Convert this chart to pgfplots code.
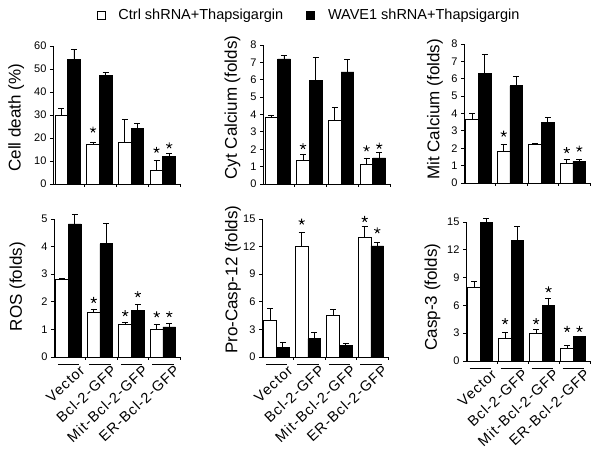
\documentclass[border=0pt]{standalone}
\usepackage{pgfplots}
\pgfplotsset{compat=1.18}
\usepackage{fontspec}
\setmainfont{Liberation Sans}
\newfontfamily\lblfont[LetterSpace=7]{Liberation Sans}

\pgfplotsset{
  panel/.style={
    scale only axis, anchor=south west,
    xmin=0, xmax=4, ymin=0, enlargelimits=false, clip=false,
    axis x line=bottom, axis y line=left,
    axis line style={-, line width=0.8pt},
    tick align=outside,
    major tick length=3pt,
    tick style={line width=0.8pt, black},
    xtick={1,2,3,4}, xticklabels={},
    yticklabel style={font=\fontsize{11}{11}\selectfont, /pgf/number format/assume math mode=true},
    tick label style={/pgf/number format/assume math mode=true},
    ylabel style={font=\fontsize{17}{17}\selectfont, anchor=center},
  },
  bottompanel/.style={
    extra x ticks={0.46,1.46,2.46,3.46},
    extra x tick labels={Vector,Bcl-2-GFP,Mit-Bcl-2-GFP,ER-Bcl-2-GFP},
    extra x tick style={major tick length=0pt,
      tick label style={font=\lblfont\fontsize{14.5}{14.5}\selectfont, rotate=43, anchor=north east, xshift=6pt, yshift=-9pt}},
  },
  wbar/.style={ybar, bar width=0.4, bar shift=0pt, draw=black, fill=white, line width=0.8pt,
    legend image code/.code={\draw[draw=black,fill=white,line width=0.8pt] (0pt,-4pt) rectangle (8pt,4pt); \path (19pt,0pt);},
    error bars/.cd, y dir=plus, y explicit,
    error bar style={line width=0.8pt, black},
    error mark options={rotate=90, mark size=3pt, line width=0.8pt, black}},
  bbar/.style={ybar, bar width=0.4, bar shift=0pt, draw=black, fill=black, line width=0.8pt,
    legend image code/.code={\draw[draw=black,fill=black,line width=0.8pt] (0pt,-4pt) rectangle (8pt,4pt); \path (19pt,0pt);},
    error bars/.cd, y dir=plus, y explicit,
    error bar style={line width=0.8pt, black},
    error mark options={rotate=90, mark size=3pt, line width=0.8pt, black}},
  stars/.style={only marks, mark=star, mark size=3.2pt, mark options={line width=0.9pt, black}},
}
\newcommand{\underlines}{%
  \draw[line width=0.8pt] ([yshift=-7pt]axis cs:0.12,0) -- ([yshift=-7pt]axis cs:0.8,0);
  \draw[line width=0.8pt] ([yshift=-7pt]axis cs:1.12,0) -- ([yshift=-7pt]axis cs:1.8,0);
  \draw[line width=0.8pt] ([yshift=-7pt]axis cs:2.12,0) -- ([yshift=-7pt]axis cs:2.8,0);
  \draw[line width=0.8pt] ([yshift=-7pt]axis cs:3.12,0) -- ([yshift=-7pt]axis cs:3.8,0);
}

\begin{document}
\begin{tikzpicture}
\path[use as bounding box] (0pt,0pt) rectangle (600pt,454pt);

% Panel A: Cell death
\begin{axis}[panel, at={(53pt,270pt)}, width=127pt, height=138pt,
  ymax=60, ytick={0,10,...,60},
  ylabel={Cell death (\%)}, ylabel style={at={(axis description cs:-0.29,0.48)}},
  legend style={at={(axis description cs:2.016,1.225)}, anchor=center, draw=none, fill=none,
    legend columns=2, font=\fontsize{14.5}{14.5}\selectfont, cells={anchor=west},
    /tikz/every even column/.append style={column sep=21pt}}]
\addplot[wbar] coordinates {(0.26,30) +- (0,3) (1.26,17) +- (0,1) (2.26,18) +- (0,10) (3.26,6) +- (0,4.3)};
\addplot[bbar] coordinates {(0.66,54) +- (0,4.5) (1.66,47.2) +- (0,1.4) (2.66,24) +- (0,2.3) (3.66,12) +- (0,1.2)};
\addplot[stars] coordinates {(1.26,23.6) (3.26,14.8) (3.66,16.7)};
\legend{Ctrl shRNA+Thapsigargin, WAVE1 shRNA+Thapsigargin}
\end{axis}

% Panel B: Cyt Calcium
\begin{axis}[panel, at={(263pt,270pt)}, width=127pt, height=139pt,
  ymax=8, ytick={0,1,...,8},
  ylabel={Cyt Calcium (folds)}, ylabel style={at={(axis description cs:-0.24,0.55)}}]
\addplot[wbar] coordinates {(0.26,3.85) +- (0,0.1) (1.26,1.37) +- (0,0.33) (2.26,3.65) +- (0,0.75) (3.26,1.15) +- (0,0.35)};
\addplot[bbar] coordinates {(0.66,7.2) +- (0,0.18) (1.66,5.95) +- (0,1.35) (2.66,6.45) +- (0,0.7) (3.66,1.5) +- (0,0.3)};
\addplot[stars] coordinates {(1.26,2.17) (3.26,2.04) (3.66,2.19)};
\end{axis}

% Panel C: Mit Calcium
\begin{axis}[panel, at={(464pt,271pt)}, width=126pt, height=139pt,
  ymax=8, ytick={0,1,...,8},
  ylabel={Mit Calcium (folds)}, ylabel style={at={(axis description cs:-0.23,0.53)}}]
\addplot[wbar] coordinates {(0.26,3.67) +- (0,0.35) (1.26,1.8) +- (0,0.4) (2.26,2.2) +- (0,0.1) (3.26,1.15) +- (0,0.2)};
\addplot[bbar] coordinates {(0.66,6.32) +- (0,1.1) (1.66,5.59) +- (0,0.57) (2.66,3.5) +- (0,0.29) (3.66,1.24) +- (0,0.1)};
\addplot[stars] coordinates {(1.26,2.83) (3.26,1.88) (3.66,1.97)};
\end{axis}

% Panel D: ROS
\begin{axis}[panel, bottompanel, at={(54pt,97pt)}, width=126pt, height=138pt,
  ymax=5, ytick={0,1,...,5},
  ylabel={ROS (folds)}, ylabel style={at={(axis description cs:-0.29,0.51)}}]
\addplot[wbar] coordinates {(0.26,2.82) +- (0,0.03) (1.26,1.6) +- (0,0.14) (2.26,1.18) +- (0,0.06) (3.26,1.0) +- (0,0.18)};
\addplot[bbar] coordinates {(0.66,4.82) +- (0,0.34) (1.66,4.1) +- (0,0.75) (2.66,1.7) +- (0,0.2) (3.66,1.09) +- (0,0.11)};
\addplot[stars] coordinates {(1.26,2.06) (2.26,1.58) (2.66,2.27) (3.26,1.54) (3.66,1.55)};
\underlines
\end{axis}

% Panel E: Pro-Casp-12
\begin{axis}[panel, bottompanel, at={(262pt,97pt)}, width=126pt, height=138pt,
  ymax=15, ytick={0,3,...,15},
  ylabel={Pro-Casp-12 (folds)}, ylabel style={at={(axis description cs:-0.23,0.56)}}]
\addplot[wbar] coordinates {(0.26,4.0) +- (0,1.27) (1.26,12.07) +- (0,1.5) (2.26,4.47) +- (0,0.7) (3.26,12.98) +- (0,1.2)};
\addplot[bbar] coordinates {(0.66,1.02) +- (0,0.55) (1.66,2.0) +- (0,0.65) (2.66,1.27) +- (0,0.18) (3.66,12.07) +- (0,0.4)};
\addplot[stars] coordinates {(1.26,14.7) (3.26,14.98) (3.66,13.75)};
\underlines
\end{axis}

% Panel F: Casp-3
\begin{axis}[panel, bottompanel, at={(466pt,93pt)}, width=124pt, height=139pt,
  ymax=15, ytick={0,3,...,15},
  ylabel={Casp-3 (folds)}, ylabel style={at={(axis description cs:-0.27,0.46)}}]
\addplot[wbar] coordinates {(0.26,7.98) +- (0,0.58) (1.26,2.47) +- (0,0.65) (2.26,3.0) +- (0,0.44) (3.26,1.38) +- (0,0.29)};
\addplot[bbar] coordinates {(0.66,14.97) +- (0,0.43) (1.66,12.98) +- (0,1.52) (2.66,5.98) +- (0,0.82) (3.66,2.61) +- (0,0.05)};
\addplot[stars] coordinates {(1.26,4.28) (2.26,4.28) (2.66,7.72) (3.26,3.44) (3.66,3.44)};
\underlines
\end{axis}
\end{tikzpicture}
\end{document}
